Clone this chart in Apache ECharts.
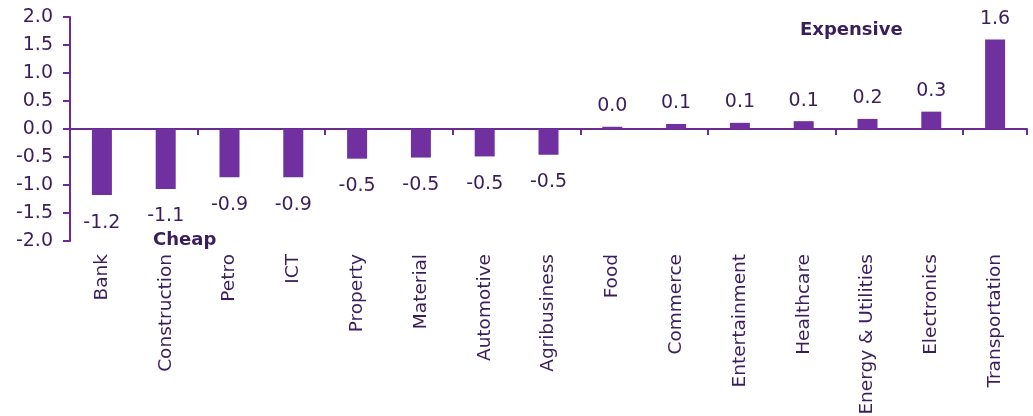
<!DOCTYPE html>
<html>
<head>
<meta charset="utf-8">
<script src="https://cdn.jsdelivr.net/npm/echarts@6/dist/echarts.min.js"></script>
<style>
html,body{margin:0;padding:0;background:#fff;}
#chart{width:1033px;height:416px;}
</style>
</head>
<body>
<div id="chart"></div>
<script>
var categories = ['Bank','Construction','Petro','ICT','Property','Material','Automotive','Agribusiness','Food','Commerce','Entertainment','Healthcare','Energy & Utilities','Electronics','Transportation'];
var values = [-1.18, -1.07, -0.86, -0.86, -0.53, -0.51, -0.49, -0.46, 0.04, 0.09, 0.11, 0.14, 0.18, 0.31, 1.6];
var yTicks = [-2.0, -1.5, -1.0, -0.5, 0.0, 0.5, 1.0, 1.5, 2.0];

var textColor = '#3a1e5c';
var axisColor = '#6a2c91';
var barColor = '#7030a0';
var font = 'DejaVu Sans';

var chart = echarts.init(document.getElementById('chart'));
chart.setOption({
  animation: false,
  grid: {left: 70, right: 6, top: 17, bottom: 175, containLabel: false, outerBoundsMode: 'none'},
  xAxis: [{
    type: 'category',
    data: categories,
    position: 'bottom',
    axisLine: {show: false, onZero: false},
    axisTick: {show: false},
    axisLabel: {rotate: 90, margin: 13, color: textColor, fontFamily: font, fontSize: 18.5, interval: 0}
  }, {
    type: 'category',
    data: categories,
    position: 'bottom',
    axisLine: {show: true, onZero: true, lineStyle: {color: axisColor, width: 2}},
    axisTick: {show: true, inside: false, length: 6, lineStyle: {color: axisColor, width: 2}},
    axisLabel: {show: false}
  }],
  yAxis: {
    type: 'value',
    min: yTicks[0],
    max: yTicks[yTicks.length - 1],
    interval: 0.5,
    splitLine: {show: false},
    axisLine: {show: true, lineStyle: {color: axisColor, width: 2}},
    axisTick: {show: true, length: 7, lineStyle: {color: axisColor, width: 2}},
    axisLabel: {margin: 17, color: textColor, fontFamily: font, fontSize: 19,
      formatter: function (v) { return v.toFixed(1); }}
  },
  series: [{
    type: 'bar',
    xAxisIndex: 0,
    barWidth: 20,
    itemStyle: {color: barColor},
    data: values.map(function (v) {
      return {value: v, label: {position: v < 0 ? 'bottom' : 'top', distance: v < 0 ? 18 : 11}};
    }),
    label: {
      show: true,
      color: textColor,
      fontFamily: font,
      fontSize: 19,
      formatter: function (p) { return p.value.toFixed(1); }
    }
  }],
  graphic: [
    {type: 'text', left: 153, top: 231, style: {text: 'Cheap', fill: textColor, font: 'bold 18px "DejaVu Sans"'}},
    {type: 'text', left: 800, top: 21, style: {text: 'Expensive', fill: textColor, font: 'bold 18px "DejaVu Sans"'}}
  ]
});
</script>
</body>
</html>
